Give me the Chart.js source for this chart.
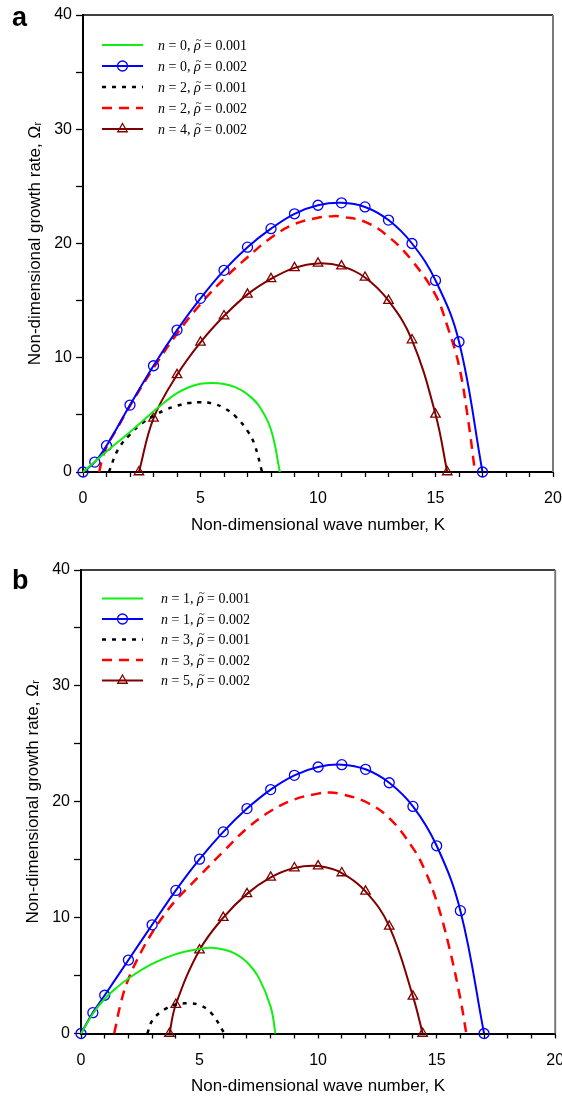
<!DOCTYPE html>
<html><head><meta charset="utf-8">
<script src="https://cdn.jsdelivr.net/npm/chart.js@4.4.1/dist/chart.umd.min.js"></script>
<style>
html,body{margin:0;padding:0;background:#fff;width:562px;height:1097px;overflow:hidden}
canvas{position:absolute;left:0}
</style></head><body>
<canvas id="c1" width="562" height="545" style="top:0"></canvas>
<canvas id="c2" width="562" height="552" style="top:545px"></canvas>
<script>
// ---------- Panel (a) ----------
const xA_green = [0,0.5,1,1.5,2,2.5,3,3.5,4,4.5,5,5.5,6,6.5,7,7.5,8,8.38];
const yA_green = [0,0.9,1.8,2.65,3.5,4.4,5.3,6.15,6.9,7.42,7.72,7.8,7.7,7.4,6.8,5.75,3.7,0];
const xA_blue = [0,0.5,1,2,3,4,5,6,7,8,9,10,11,12,13,14,15,16,17];
const yA_blue = [0,0.87,2.3,5.86,9.3,12.42,15.2,17.65,19.68,21.3,22.6,23.35,23.56,23.2,22.05,20.0,16.77,11.4,0];
const xA_black = [1.1,1.5,2,2.5,3,3.5,4,4.5,5,5.5,6,6.5,7,7.3,7.62];
const yA_black = [0,2.0,3.3,4.25,4.9,5.43,5.8,6.03,6.1,6.0,5.6,4.85,3.6,2.4,0];
const xA_red = [0.69,0.8,1,1.5,2,3,4,5,6,7,8,9,10,10.7,11,12,13,14,15,15.5,16,16.4,16.68];
const yA_red = [0,1.0,2.2,4.0,5.8,9.1,12.1,14.7,16.9,18.8,20.5,21.7,22.25,22.4,22.35,21.9,20.6,18.5,15.5,12.8,9.3,4.4,0];
const xA_brown = [2.38,3,4,5,6,7,8,9,10,11,12,13,14,15,15.5];
const yA_brown = [0,4.7,8.5,11.35,13.65,15.55,16.9,17.87,18.26,18.02,17.03,15.0,11.55,5.05,0];
const nA = ['0','0','2','2','4'];
const rhoA = ['0.001','0.002','0.001','0.002','0.002'];

// ---------- Panel (b) ----------
const xB_green = [0,0.5,1,1.5,2,3,4,5,5.5,6,6.5,7,7.5,8,8.2];
const yB_green = [0,1.7,3.0,3.95,4.75,6.0,6.85,7.3,7.4,7.25,6.9,6.15,4.8,2.3,0];
const xB_blue = [0,0.5,1,2,3,4,5,6,7,8,9,10,11,12,13,14,15,16,17];
const yB_blue = [0,1.8,3.3,6.34,9.38,12.35,15.04,17.4,19.41,21.05,22.28,23.0,23.2,22.8,21.64,19.6,16.2,10.6,0];
const xB_black = [2.8,3,3.5,4,4.5,5,5.5,6.05];
const yB_black = [0,1.1,2.05,2.5,2.6,2.45,1.75,0];
const xB_red = [1.4,1.7,2,2.5,3,3.5,4,5,6,7,8,9,10,10.5,11,12,13,14,14.5,15,15.5,16,16.25];
const yB_red = [0,2.8,4.7,6.9,8.7,10.2,11.5,13.6,15.7,17.7,19.2,20.2,20.7,20.8,20.65,20.0,18.6,16.0,14.1,11.4,7.7,3.0,0];
const xB_brown = [3.73,4,5,6,7,8,9,10,11,12,13,14,14.41];
const yB_brown = [0,2.5,7.2,10.0,12.05,13.47,14.28,14.45,13.85,12.27,9.25,3.2,0];
const nB = ['1','1','3','3','5'];
const rhoB = ['0.001','0.002','0.001','0.002','0.002'];

// ---------- Axes ----------
const xRange = [0, 20];
const yRange = [0, 40];
const xLabelEvery = 5;
const yLabelEvery = 10;
const xTitle = 'Non-dimensional wave number, K';
const yTitle = 'Non-dimensional growth rate, \u03A9\u1D63';

const SANS = "'Liberation Sans', Arial, Helvetica, sans-serif";
const SERIF = "'Liberation Serif', 'Times New Roman', serif";

function pts(xs, ys){ return xs.map((x,i)=>({x:x, y:ys[i]})); }

const styles = [
  {borderColor:'#11ee11', borderWidth:2, borderDash:[], pointRadius:0, pointStyle:false},
  {borderColor:'#0000ff', borderWidth:2, borderDash:[], pointRadius:5, pointStyle:'circle'},
  {borderColor:'#000000', borderWidth:2.5, borderDash:[4,6], pointRadius:0, pointStyle:false},
  {borderColor:'#ff0000', borderWidth:2.5, borderDash:[10,7], pointRadius:0, pointStyle:false},
  {borderColor:'#800000', borderWidth:2, borderDash:[], pointRadius:5.5, pointStyle:'triangle'}
];

function makeDatasets(series, ns, rhos){
  return series.map((s,i)=>{
    const st = styles[i];
    return {
      label: 'n = '+ns[i]+', \u03C1\u0303 = '+rhos[i],
      legendN: ns[i], legendRho: rhos[i],
      data: pts(s[0], s[1]),
      borderColor: st.borderColor,
      borderWidth: st.borderWidth,
      borderDash: st.borderDash,
      pointRadius: st.pointRadius,
      pointHoverRadius: st.pointRadius,
      pointStyle: st.pointStyle === false ? 'circle' : st.pointStyle,
      drawMarker: st.pointStyle !== false,
      pointBorderColor: st.borderColor,
      pointBackgroundColor: 'rgba(0,0,0,0)',
      pointBorderWidth: 1.3,
      fill: false,
      tension: 0.4,
      clip: 12
    };
  });
}

const panelPlugin = {
  id: 'panel',
  afterDatasetsDraw(chart, args, o){
    const ctx = chart.ctx, a = chart.chartArea;
    ctx.save();
    // top and right frame
    ctx.lineWidth = 1.5; ctx.strokeStyle = '#000';
    ctx.beginPath(); ctx.moveTo(a.left, a.top); ctx.lineTo(a.right, a.top); ctx.stroke();
    ctx.lineWidth = 2; ctx.strokeStyle = '#7a7a7a';
    ctx.beginPath(); ctx.moveTo(a.right, a.top); ctx.lineTo(a.right, a.bottom); ctx.stroke();
    // legend
    const ds = chart.data.datasets;
    ds.forEach((d,i)=>{
      const y = a.top + o.legendTop + i*o.legendGap;
      const x0 = o.legendX0, x1 = o.legendX1;
      ctx.setLineDash(d.borderDash || []);
      ctx.lineWidth = d.borderWidth; ctx.strokeStyle = d.borderColor;
      ctx.beginPath(); ctx.moveTo(x0, y); ctx.lineTo(x1, y); ctx.stroke();
      ctx.setLineDash([]);
      if (d.drawMarker){
        ctx.lineWidth = d.pointBorderWidth; ctx.strokeStyle = d.borderColor;
        ctx.fillStyle = 'rgba(0,0,0,0)';
        Chart.helpers.drawPoint(ctx, {pointStyle:d.pointStyle, radius:d.pointRadius, rotation:0, borderWidth:d.pointBorderWidth}, (x0+x1)/2, y);
      }
      // text parts: n = N, rho~ = R
      let tx = o.legendTextX;
      ctx.fillStyle = '#000'; ctx.textBaseline = 'middle'; ctx.textAlign = 'left';
      const reg = o.legendFont + 'px ' + SERIF, ital = 'italic ' + o.legendFont + 'px ' + SERIF;
      const draw = (t, f) => { ctx.font = f; ctx.fillText(t, tx, y+1); tx += ctx.measureText(t).width; };
      draw('n', ital);
      draw(' = ' + d.legendN + ', ', reg);
      const rx = tx;
      draw('\u03C1', ital);
      const rw = tx - rx;
      // tilde accent above rho
      ctx.font = (o.legendFont - 3) + 'px ' + SERIF;
      ctx.textAlign = 'center';
      ctx.fillText('~', rx + rw/2 + 1.5, y - 5);
      ctx.textAlign = 'left';
      draw(' = ' + d.legendRho, reg);
    });
    // panel letter
    ctx.font = 'bold ' + o.letterSize + 'px ' + SANS;
    ctx.fillStyle = '#000'; ctx.textBaseline = 'alphabetic'; ctx.textAlign = 'left';
    ctx.fillText(o.letter, o.letterX, o.letterY);
    ctx.restore();
  }
};

function makeChart(id, series, ns, rhos, g){
  new Chart(document.getElementById(id), {
    type: 'line',
    data: { datasets: makeDatasets(series, ns, rhos) },
    plugins: [panelPlugin],
    options: {
      responsive: false,
      animation: false,
      devicePixelRatio: 1,
      events: [],
      layout: { padding: { left: 0, right: g.padRight, top: g.padTop, bottom: 0 } },
      plugins: {
        legend: { display: false },
        tooltip: { enabled: false },
        panel: g.panel
      },
      scales: {
        x: {
          type: 'linear', min: xRange[0], max: xRange[1],
          afterFit(s){ s.height = g.xHeight; s.paddingLeft = 0; s.paddingRight = 0; },
          ticks: {
            stepSize: 1, autoSkip: false, maxRotation: 0, padding: g.xTickPad,
            color: '#000', font: { family: SANS, size: 16 },
            callback: v => (v % xLabelEvery === 0 ? String(v) : '')
          },
          grid: { display: true, drawOnChartArea: false, drawTicks: true, tickLength: 5, tickColor: '#000', tickWidth: 1.3 },
          border: { display: true, color: '#000', width: 2 },
          title: { display: true, text: xTitle, color: '#000', font: { family: SANS, size: 17 }, padding: { top: 0, bottom: g.xTitlePad } }
        },
        y: {
          type: 'linear', min: yRange[0], max: yRange[1],
          afterFit(s){ s.width = g.yWidth; },
          ticks: {
            stepSize: 5, autoSkip: false, padding: 4,
            color: '#000', font: { family: SANS, size: 16 },
            callback: v => (v % yLabelEvery === 0 ? String(v) : '')
          },
          grid: { display: true, drawOnChartArea: false, drawTicks: true, tickLength: 7, tickColor: '#000', tickWidth: 1.3 },
          border: { display: true, color: '#000', width: 2 },
          title: { display: true, text: yTitle, color: '#000', font: { family: SANS, size: 17 }, padding: { top: g.yTitlePad, bottom: 0 } }
        }
      }
    }
  });
}

makeChart('c1',
  [[xA_green,yA_green],[xA_blue,yA_blue],[xA_black,yA_black],[xA_red,yA_red],[xA_brown,yA_brown]],
  nA, rhoA,
  { padRight: 9, padTop: 15, xHeight: 73, yWidth: 83, xTickPad: 12, xTitlePad: 9, yTitlePad: 25,
    panel: { legendTop: 30, legendGap: 21, legendX0: 102, legendX1: 143, legendTextX: 158, legendFont: 14,
             letter: 'a', letterX: 12, letterY: 26, letterSize: 27 } });

makeChart('c2',
  [[xB_green,yB_green],[xB_blue,yB_blue],[xB_black,yB_black],[xB_red,yB_red],[xB_brown,yB_brown]],
  nB, rhoB,
  { padRight: 6, padTop: 25, xHeight: 63.5, yWidth: 81, xTickPad: 12, xTitlePad: 0, yTitlePad: 23,
    panel: { legendTop: 28.5, legendGap: 20.5, legendX0: 102, legendX1: 143, legendTextX: 161, legendFont: 14,
             letter: 'b', letterX: 12, letterY: 44, letterSize: 27 } });
</script>
</body></html>
